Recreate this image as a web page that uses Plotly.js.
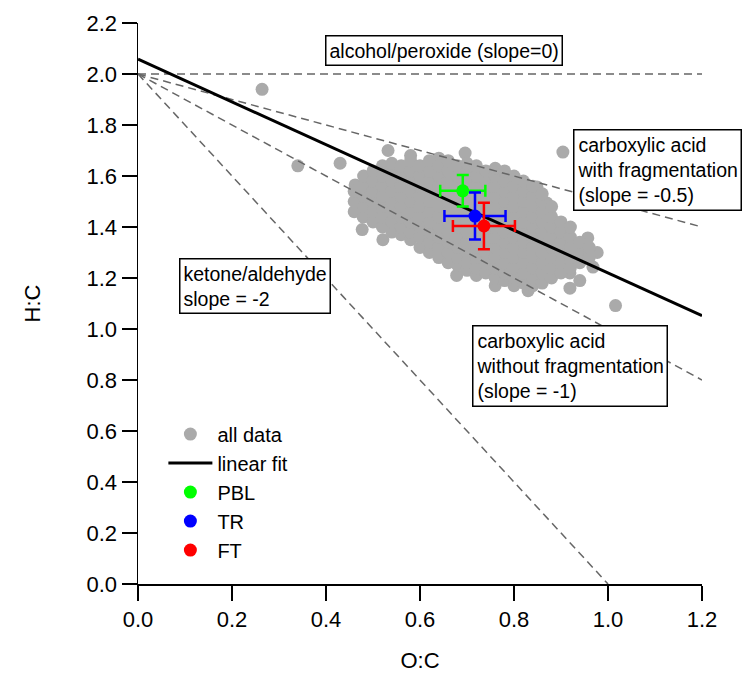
<!DOCTYPE html>
<html>
<head>
<meta charset="utf-8">
<script src="https://cdn.plot.ly/plotly-3.0.1.min.js"></script>
</head>
<body style="margin:0;background:#fff">
<div id="chart" style="width:745px;height:673px"></div>
<script>
// ---- all data (O:C, H:C) ----
const allOC = [
  0.264, 0.34, 0.43, 0.462, 0.477, 0.479, 0.521, 0.532, 0.58, 0.64, 0.696, 0.678,
  0.76, 0.83, 0.849, 0.87, 0.904, 0.919, 0.919, 0.94, 0.957, 0.968, 0.977, 1.016,
  0.46, 0.46, 0.46,
  0.48, 0.48, 0.48, 0.48, 0.48,
  0.50, 0.50, 0.50, 0.50, 0.50, 0.50,
  0.52, 0.52, 0.52, 0.52, 0.52, 0.52, 0.52,
  0.54, 0.54, 0.54, 0.54, 0.54, 0.54, 0.54, 0.54,
  0.56, 0.56, 0.56, 0.56, 0.56, 0.56, 0.56, 0.56,
  0.58, 0.58, 0.58, 0.58, 0.58, 0.58, 0.58, 0.58, 0.58,
  0.60, 0.60, 0.60, 0.60, 0.60, 0.60, 0.60, 0.60, 0.60,
  0.62, 0.62, 0.62, 0.62, 0.62, 0.62, 0.62, 0.62, 0.62, 0.62,
  0.64, 0.64, 0.64, 0.64, 0.64, 0.64, 0.64, 0.64, 0.64, 0.64,
  0.66, 0.66, 0.66, 0.66, 0.66, 0.66, 0.66, 0.66, 0.66, 0.66, 0.66,
  0.68, 0.68, 0.68, 0.68, 0.68, 0.68, 0.68, 0.68, 0.68, 0.68, 0.68,
  0.70, 0.70, 0.70, 0.70, 0.70, 0.70, 0.70, 0.70, 0.70, 0.70, 0.70, 0.70,
  0.72, 0.72, 0.72, 0.72, 0.72, 0.72, 0.72, 0.72, 0.72, 0.72, 0.72, 0.72,
  0.74, 0.74, 0.74, 0.74, 0.74, 0.74, 0.74, 0.74, 0.74, 0.74, 0.74,
  0.76, 0.76, 0.76, 0.76, 0.76, 0.76, 0.76, 0.76, 0.76, 0.76, 0.76, 0.76,
  0.78, 0.78, 0.78, 0.78, 0.78, 0.78, 0.78, 0.78, 0.78, 0.78, 0.78, 0.78,
  0.80, 0.80, 0.80, 0.80, 0.80, 0.80, 0.80, 0.80, 0.80, 0.80, 0.80, 0.80,
  0.82, 0.82, 0.82, 0.82, 0.82, 0.82, 0.82, 0.82, 0.82, 0.82, 0.82,
  0.84, 0.84, 0.84, 0.84, 0.84, 0.84, 0.84, 0.84, 0.84, 0.84, 0.84,
  0.86, 0.86, 0.86, 0.86, 0.86, 0.86, 0.86, 0.86, 0.86, 0.86,
  0.88, 0.88, 0.88, 0.88, 0.88, 0.88, 0.88, 0.88,
  0.90, 0.90, 0.90, 0.90, 0.90, 0.90,
  0.92, 0.92, 0.92, 0.92, 0.92,
  0.94, 0.94, 0.94,
  0.96, 0.96
];
const allHC = [
  1.94, 1.64, 1.65, 1.565, 1.39, 1.44, 1.35, 1.70, 1.68, 1.67, 1.69, 1.21,
  1.17, 1.15, 1.557, 1.494, 1.694, 1.16, 1.22, 1.19, 1.357, 1.243, 1.30, 1.092,
  1.46, 1.50, 1.54,
  1.44, 1.48, 1.52, 1.56, 1.60,
  1.42, 1.46, 1.50, 1.54, 1.58, 1.62,
  1.40, 1.44, 1.48, 1.52, 1.56, 1.60, 1.64,
  1.38, 1.42, 1.46, 1.50, 1.54, 1.58, 1.62, 1.65,
  1.37, 1.40, 1.44, 1.48, 1.52, 1.56, 1.60, 1.64,
  1.35, 1.38, 1.42, 1.46, 1.50, 1.54, 1.58, 1.62, 1.66,
  1.32, 1.36, 1.40, 1.44, 1.48, 1.52, 1.56, 1.60, 1.64,
  1.30, 1.34, 1.38, 1.42, 1.46, 1.50, 1.54, 1.58, 1.62, 1.66,
  1.28, 1.32, 1.36, 1.40, 1.44, 1.48, 1.52, 1.56, 1.60, 1.64,
  1.26, 1.30, 1.34, 1.38, 1.42, 1.46, 1.50, 1.54, 1.58, 1.62, 1.66,
  1.25, 1.28, 1.32, 1.36, 1.40, 1.44, 1.48, 1.52, 1.56, 1.60, 1.64,
  1.23, 1.26, 1.30, 1.34, 1.38, 1.42, 1.46, 1.50, 1.54, 1.58, 1.62, 1.65,
  1.21, 1.24, 1.28, 1.32, 1.36, 1.40, 1.44, 1.48, 1.52, 1.56, 1.60, 1.64,
  1.22, 1.26, 1.30, 1.34, 1.38, 1.42, 1.46, 1.50, 1.54, 1.58, 1.62,
  1.20, 1.24, 1.28, 1.32, 1.36, 1.40, 1.44, 1.48, 1.52, 1.56, 1.60, 1.63,
  1.19, 1.22, 1.26, 1.30, 1.34, 1.38, 1.42, 1.46, 1.50, 1.54, 1.58, 1.62,
  1.17, 1.20, 1.24, 1.28, 1.32, 1.36, 1.40, 1.44, 1.48, 1.52, 1.56, 1.60,
  1.18, 1.22, 1.26, 1.30, 1.34, 1.38, 1.42, 1.46, 1.50, 1.54, 1.58,
  1.17, 1.20, 1.24, 1.28, 1.32, 1.36, 1.40, 1.44, 1.48, 1.52, 1.56,
  1.18, 1.22, 1.26, 1.30, 1.34, 1.38, 1.42, 1.46, 1.50, 1.53,
  1.20, 1.24, 1.28, 1.32, 1.36, 1.40, 1.44, 1.48,
  1.22, 1.26, 1.30, 1.34, 1.38, 1.42,
  1.24, 1.28, 1.32, 1.36, 1.40,
  1.26, 1.30, 1.34,
  1.28, 1.32
];

// ---- linear fit ----
const fitOC = [0.0, 1.2];
const fitHC = [2.058, 1.052];

// ---- reference slope lines (start at O:C=0, H:C=2) ----
const slope0OC = [0.0, 1.2],  slope0HC = [2.0, 2.0];
const slopeHalfOC = [0.0, 1.2], slopeHalfHC = [2.0, 1.4];
const slope1OC = [0.0, 1.2], slope1HC = [2.0, 0.8];
const slope2OC = [0.0, 1.0], slope2HC = [2.0, 0.0];

// ---- region means with error bars ----
const regionNames = ['PBL', 'TR', 'FT'];
const regionOC = [0.691, 0.717, 0.736];
const regionHC = [1.542, 1.443, 1.404];
const regionOCerr = [0.048, 0.065, 0.066];
const regionHCerr = [0.062, 0.092, 0.091];
const regionColors = ['#00ff00', '#0000ff', '#ff0000'];

const dashStyle = {color: '#666666', width: 1.5, dash: '8px,5px'};
const traces = [];
traces.push({x: allOC, y: allHC, type: 'scatter', mode: 'markers', name: 'all data',
  marker: {color: '#aaaaaa', size: 13}, legendrank: 1, hoverinfo: 'x+y'});
[[slope0OC, slope0HC], [slopeHalfOC, slopeHalfHC], [slope1OC, slope1HC], [slope2OC, slope2HC]]
  .forEach(function (p) {
    traces.push({x: p[0], y: p[1], type: 'scatter', mode: 'lines', line: dashStyle,
      showlegend: false, hoverinfo: 'skip'});
  });
traces.push({x: fitOC, y: fitHC, type: 'scatter', mode: 'lines', name: 'linear fit',
  line: {color: '#000000', width: 3}, legendrank: 2});
regionNames.forEach(function (n, i) {
  traces.push({x: [regionOC[i]], y: [regionHC[i]], type: 'scatter', mode: 'markers', name: n,
    marker: {color: regionColors[i], size: 13},
    error_x: {type: 'data', array: [regionOCerr[i]], color: regionColors[i], thickness: 2.5, width: 6},
    error_y: {type: 'data', array: [regionHCerr[i]], color: regionColors[i], thickness: 2.5, width: 6},
    legendrank: 3 + i});
});

const boxFont = {family: 'Liberation Sans, Arial, sans-serif', size: 19.5, color: '#000'};
function box(text, x, y, xa, ya) {
  return {text: text, xref: 'paper', yref: 'paper', x: x, y: y, xanchor: xa, yanchor: ya,
    showarrow: false, align: 'left', font: boxFont, bgcolor: '#ffffff',
    bordercolor: '#000000', borderwidth: 1.5, borderpad: 3};
}

const axisCommon = {
  showline: true, linecolor: '#000', linewidth: 1.5, ticks: 'outside', ticklen: 15,
  tickwidth: 1.5, tickcolor: '#000', showgrid: false, zeroline: false, tickformat: '.1f',
  tick0: 0, dtick: 0.2, tickfont: {size: 22, color: '#000'}, automargin: false, fixedrange: true
};

const layout = {
  width: 745, height: 673,
  margin: {l: 138, r: 43, t: 23, b: 89},
  paper_bgcolor: '#ffffff', plot_bgcolor: '#ffffff',
  font: {family: 'Liberation Sans, Arial, sans-serif', color: '#000'},
  xaxis: Object.assign({}, axisCommon, {range: [0, 1.2],
    title: {text: 'O:C', font: {size: 22, color: '#000'}, standoff: 22}}),
  yaxis: Object.assign({}, axisCommon, {range: [0, 2.2],
    title: {text: 'H:C', font: {size: 22, color: '#000'}, standoff: 40}}),
  showlegend: true,
  legend: {x: 0.045, y: 0.302, xanchor: 'left', yanchor: 'top', bgcolor: 'rgba(0,0,0,0)',
    font: {size: 20, color: '#000'}, tracegroupgap: 0, itemwidth: 44},
  annotations: [
    box('alcohol/peroxide (slope=0)', 0.5426, 0.951, 'center', 'middle'),
    box('carboxylic acid<br>with fragmentation<br>(slope = -0.5)', 0.771, 0.811, 'left', 'top'),
    box('ketone/aldehyde<br>slope = -2', 0.0727, 0.581, 'left', 'top'),
    box('carboxylic acid<br>without fragmentation<br>(slope = -1)', 0.592, 0.4617, 'left', 'top')
  ]
};

if (allOC.length !== allHC.length) console.error('length mismatch', allOC.length, allHC.length);
Plotly.newPlot('chart', traces, layout, {displayModeBar: false, staticPlot: true});
</script>
</body>
</html>
